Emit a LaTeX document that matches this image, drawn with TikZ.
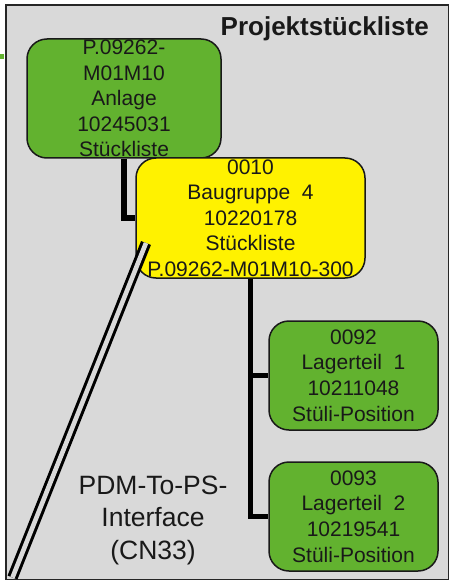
\documentclass[tikz,border=0pt]{standalone}
\usepackage{fontspec}
\setmainfont{Liberation Sans}
\begin{document}
\begin{tikzpicture}[x=1pt,y=-1pt,
  box/.style={draw=black!90,line width=1.5pt,rounded corners=20pt,inner sep=0pt,align=center,
     font=\fontsize{21}{25.6}\selectfont,text=black!90},
  greenbox/.style={box,fill=boxgreen},
  yellowbox/.style={box,fill=yellow},
  link/.style={draw=black,line width=5.5pt},
  label/.style={inner sep=0pt,align=center,text=black!90}]
\definecolor{boxgreen}{HTML}{62B22F}
\definecolor{panel}{HTML}{D9D9D9}
\useasboundingbox (0,0) rectangle (449,580);
\fill[boxgreen] (0,54) rectangle (4,59);
\node[draw=black!85,fill=panel,line width=2pt,inner sep=0pt,minimum width=443.5pt,minimum height=574pt,anchor=north west] (frame) at (4.5,4.5) {};
\node[greenbox,minimum width=194pt,minimum height=119pt] (anlage) at (124,98.5) {P.09262-\\M01M10\\Anlage\\10245031\\Stückliste};
\node[yellowbox,minimum width=229pt,minimum height=120pt] (bg) at (250.5,218) {0010\\Baugruppe\ \ 4\\10220178\\Stückliste\\P.09262-M01M10-300};
\node[greenbox,minimum width=169pt,minimum height=109pt] (teil1) at (353.5,375.5) {0092\\Lagerteil\ \ 1\\10211048\hspace*{12pt}\\Stüli-Position};
\node[greenbox,minimum width=169pt,minimum height=109pt] (teil2) at (353.5,516.5) {0093\\Lagerteil\ \ 2\\10219541\\Stüli-Position};
\draw[link] (anlage.south) |- (bg.west);
\draw[link] (bg.south) |- (teil1.west);
\draw[link] (bg.south) |- (teil2.west);
\coordinate (ifaceA) at (146,243);
\coordinate (ifaceB) at (12.5,577.5);
\draw[draw=black,line width=3pt,double=panel,double distance=4.6pt] (ifaceA) -- (ifaceB);
\node[label,font=\fontsize{26.5}{32.5}\selectfont] (iface) at (153,520) {PDM-To-PS-\\Interface\\(CN33)};
\node[label,font=\bfseries\fontsize{26}{30}\selectfont,anchor=east] (title) at (429,28.5) {Projektstückliste};
\end{tikzpicture}
\end{document}
